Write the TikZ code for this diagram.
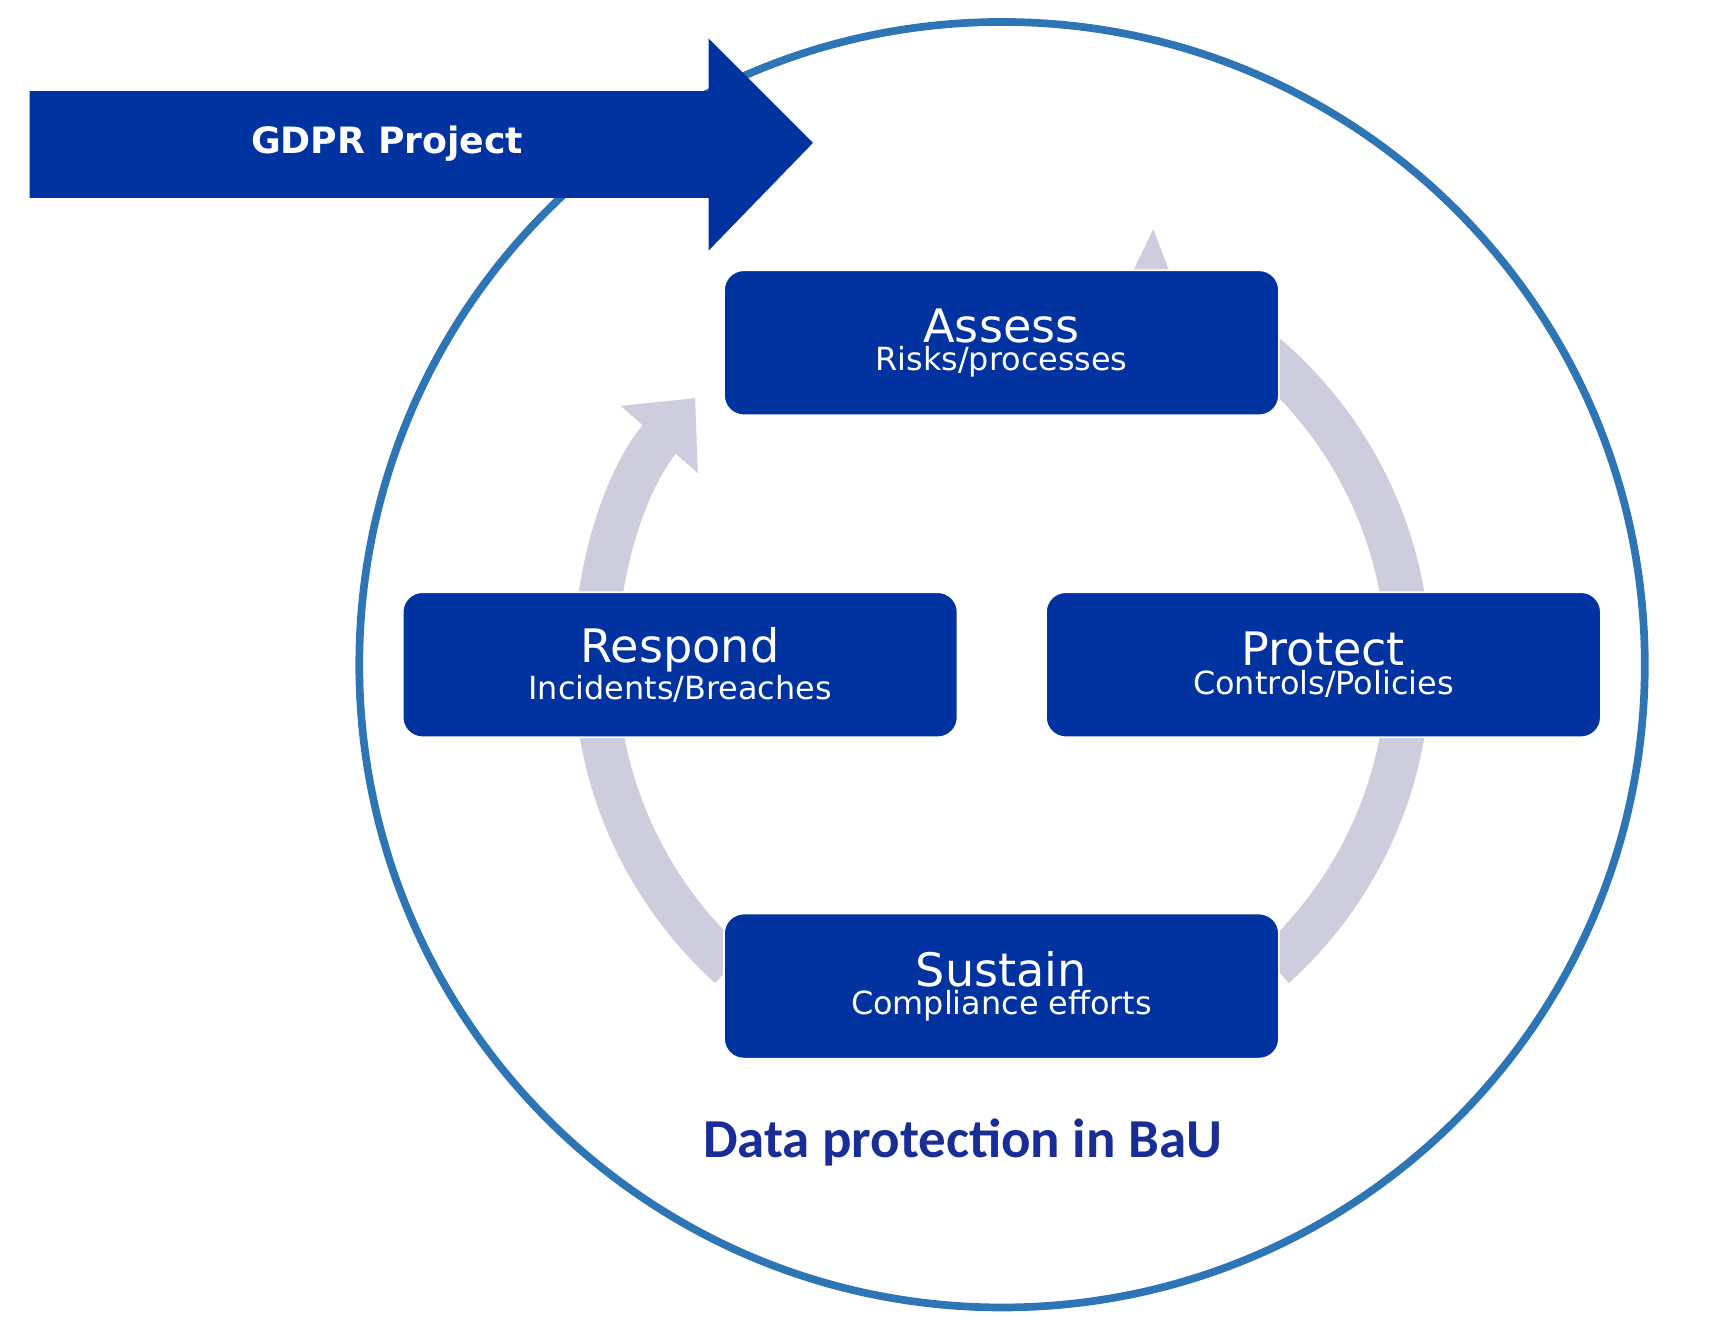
\documentclass[tikz,border=0pt]{standalone}
\usepackage{fontspec}
\setmainfont{DejaVu Sans}
\newfontfamily\calib{Carlito}
\usetikzlibrary{arrows.meta}
\definecolor{boxblue}{RGB}{0,51,160}
\definecolor{ringblue}{RGB}{46,117,182}
\definecolor{ringgray}{RGB}{205,205,222}
\definecolor{titleblue}{RGB}{25,45,150}
\begin{document}
\begin{tikzpicture}[x=1pt,y=1pt,
  phase/.style={draw=white,line width=1.5pt,fill=boxblue,rounded corners=18pt,minimum width=505pt,minimum height=132pt,align=center,text=white,inner sep=0pt},
  cyc/.style={ringgray,line width=40pt}]
\useasboundingbox (0,0) rectangle (1560,1207);
\coordinate (c) at (912,602);
\draw[ringblue,line width=7pt] (c) circle (585);
\draw[cyc,-{Triangle[width=90pt,length=50pt]}] ([shift={(185:370)}]c) arc (185:139:370);
\draw[cyc,-{Triangle[width=90pt,length=50pt]}] ([shift={(70:370)}]c) arc (70:64:370);
\draw[cyc] ([shift={(62:370)}]c) arc (62:-5:370);
\draw[cyc] ([shift={(-5:370)}]c) arc (-5:-48:370);
\draw[cyc] ([shift={(228:370)}]c) arc (228:175:370);
\fill[boxblue] (27,1124) -- (645,1124) -- (645,1172) -- (740,1077) -- (645,979) -- (645,1027) -- (27,1027) -- cycle;
\node[text=white,font=\fontsize{33}{40}\selectfont\bfseries,anchor=west] (gdpr) at (225,1076) {GDPR Project};
\node[phase] (assess) at (911.5,895) {\fontsize{42}{48}\selectfont Assess\\[2pt]\fontsize{29}{36}\selectfont Risks/processes};
\node[phase] (respond) at (619,602) {\fontsize{42}{48}\selectfont Respond\\[2pt]\fontsize{29}{36}\selectfont Incidents/Breaches};
\node[phase] (protect) at (1204.5,602) {\fontsize{42}{48}\selectfont Protect\\[2pt]\fontsize{29}{36}\selectfont Controls/Policies};
\node[phase] (sustain) at (911.5,309.5) {\fontsize{42}{48}\selectfont Sustain\\[2pt]\fontsize{29}{36}\selectfont Compliance efforts};
\node[text=titleblue,font=\calib\fontsize{50}{60}\selectfont\bfseries] (bau) at (876,167) {Data protection in BaU};
\end{tikzpicture}
\end{document}
